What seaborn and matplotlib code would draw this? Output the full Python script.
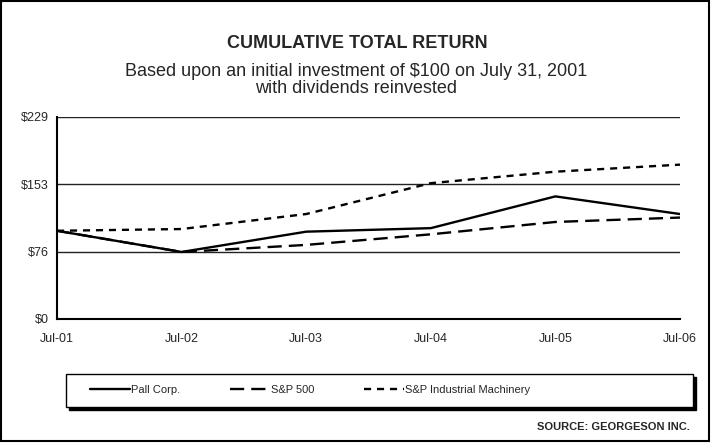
import pandas as pd
import numpy as np
import matplotlib.pyplot as plt
import seaborn as sns
from matplotlib.patches import Rectangle

# Chart values
years = ["Jul-01", "Jul-02", "Jul-03", "Jul-04", "Jul-05", "Jul-06"]
pall = [100, 76, 99, 103, 139, 119]
sp500 = [100, 76, 84, 96, 110, 115]
industrial = [100, 102, 119, 154, 167, 175]
series_names = ["Pall Corp.", "S&P 500", "S&P Industrial Machinery"]
y_ticks = [0, 76, 153, 229]

df = pd.DataFrame({
    "year": years * 3,
    "x": list(range(len(years))) * 3,
    "value": pall + sp500 + industrial,
    "series": np.repeat(series_names, len(years)),
})

sns.set_style("white")
plt.rcParams['font.family'] = ['Liberation Sans', 'DejaVu Sans']

W, H = 712, 443
fig = plt.figure(figsize=(W / 100, H / 100), dpi=100)
ax = fig.add_axes([57 / W, 1 - 319 / H, (680 - 57) / W, (319 - 117) / H])

sns.lineplot(data=df, x="x", y="value", style="series", ax=ax,
             color="black", linewidth=1.7, legend=False,
             dashes={"Pall Corp.": "", "S&P 500": (6, 3), "S&P Industrial Machinery": (3, 2.5)})

ax.set_xlim(0, len(years) - 1)
ax.set_ylim(0, 229)
ax.set_xticks(range(len(years)))
ax.set_xticklabels(years)
ax.set_yticks(y_ticks)
ax.set_yticklabels([f"${v}" for v in y_ticks])
ax.set_xlabel("")
ax.set_ylabel("")
ax.tick_params(axis="both", labelsize=9, length=0)
ax.tick_params(axis="x", pad=10)
ax.tick_params(axis="y", pad=6)
ax.grid(axis="y", color="#222222", linewidth=1.0)
for side in ["top", "right"]:
    ax.spines[side].set_visible(False)
for side in ["left", "bottom"]:
    ax.spines[side].set_color("black")
    ax.spines[side].set_linewidth(1.5)

# titles
fig.text(357 / W, 1 - 43 / H, "CUMULATIVE TOTAL RETURN", ha="center", va="center",
         fontsize=13, fontweight="bold")
fig.text(356 / W, 1 - 80 / H,
         "Based upon an initial investment of $100 on July 31, 2001\nwith dividends reinvested",
         ha="center", va="center", fontsize=13, linespacing=0.95)

# legend box with solid offset shadow
fig.patches.append(Rectangle((69 / W, 1 - 410 / H), (693 - 66) / W, 33 / H,
                             transform=fig.transFigure, facecolor="black",
                             edgecolor="black", linewidth=1.0))
fig.patches.append(Rectangle((66 / W, 1 - 407 / H), (693 - 66) / W, 33 / H,
                             transform=fig.transFigure, facecolor="white",
                             edgecolor="black", linewidth=1.0))

handles = ax.get_lines()[:3]
leg = fig.legend(handles, series_names, loc="center", ncol=3,
                 bbox_to_anchor=(310 / W, 1 - 390 / H),
                 frameon=False, handlelength=3.6, handletextpad=0.1,
                 columnspacing=4.5, fontsize=8)

fig.text(690 / W, 1 - 427 / H, "SOURCE: GEORGESON INC.", ha="right", va="center",
         fontsize=8, fontweight="bold")

# outer border
fig.patches.append(Rectangle((0.002, 0.004), 0.994, 0.993, transform=fig.transFigure,
                             fill=False, edgecolor="black", linewidth=1.5))

plt.savefig("out.png", dpi=100)
